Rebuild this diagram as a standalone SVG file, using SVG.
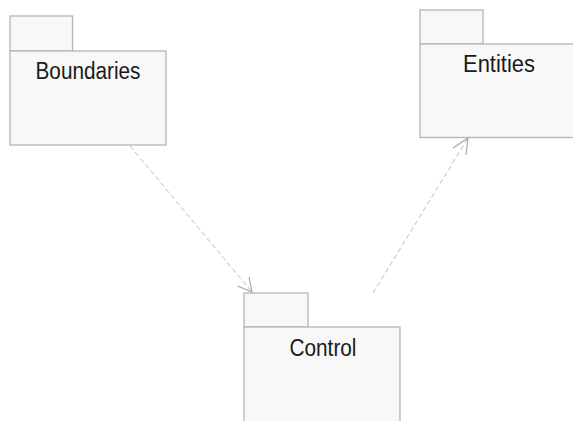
<svg xmlns="http://www.w3.org/2000/svg" width="573" height="421" viewBox="0 0 573 421">
<style>
.pkg{fill:#f8f8f8;stroke:#b4b4b4;stroke-width:1.3}
.lbl{font-family:"Liberation Sans",Arial,sans-serif;font-size:23px;fill:#1a1a1a;text-anchor:middle}
.dep{fill:none;stroke:#bdbdbd;stroke-width:1;stroke-dasharray:5,3}
.head{fill:none;stroke:#a8a8a8;stroke-width:1.2}
</style>
<rect width="573" height="421" fill="#ffffff"/>
<g id="boundaries">
<rect class="pkg" x="10" y="16" width="62.5" height="35"/>
<rect class="pkg" x="10" y="51" width="156" height="94"/>
<text class="lbl" x="88" y="79" textLength="105" lengthAdjust="spacingAndGlyphs">Boundaries</text>
</g>
<g id="entities">
<rect class="pkg" x="420" y="10" width="63" height="34"/>
<rect class="pkg" x="420" y="44" width="158" height="93.5"/>
<text class="lbl" x="499" y="72" textLength="72" lengthAdjust="spacingAndGlyphs">Entities</text>
</g>
<g id="control">
<rect class="pkg" x="244" y="293" width="64" height="34"/>
<rect class="pkg" x="244" y="327" width="156" height="100"/>
<text class="lbl" x="323" y="356" textLength="67" lengthAdjust="spacingAndGlyphs">Control</text>
</g>
<g id="connectors">
<line class="dep" x1="130" y1="146" x2="252" y2="292"/>
<polyline class="head" points="237.5,286 252,292 249,277"/>
<line class="dep" x1="373" y1="293" x2="468" y2="138"/>
<polyline class="head" points="453,148 468,138 466,155"/>
</g>
</svg>
